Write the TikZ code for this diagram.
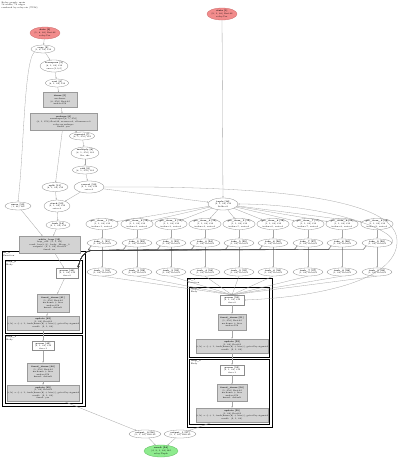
\documentclass[tikz,border=0pt]{standalone}
\usetikzlibrary{shapes.geometric,arrows.meta}
\definecolor{edgegray}{HTML}{A6A6A6}
\definecolor{nodeline}{HTML}{8C8C8C}
\definecolor{boxfill}{HTML}{D3D3D3}
\definecolor{boxline}{HTML}{9A9A9A}
\definecolor{redfill}{HTML}{F28C8C}
\definecolor{redline}{HTML}{C86464}
\definecolor{greenfill}{HTML}{8EEB8E}
\definecolor{greenline}{HTML}{5CB85C}
\tikzset{
  tinyfont/.style={font=\fontsize{2.1}{2.6}\selectfont, align=center},
  sz/.style 2 args={minimum width=#1, minimum height=#2},
  ell/.style={ellipse, draw=nodeline, line width=0.3pt, fill=white, inner sep=0pt, tinyfont},
  redell/.style={ell, fill=redfill, draw=redline},
  greenell/.style={ell, fill=greenfill, draw=greenline},
  graybox/.style={rectangle, draw=boxline, fill=boxfill, line width=0.3pt, inner sep=0pt, tinyfont},
  whitebox/.style={rectangle, draw=nodeline, fill=white, line width=0.3pt, inner sep=0pt, tinyfont},
  edge/.style={draw=edgegray, line width=0.3pt, -{Stealth[length=1.6pt,width=1.3pt]}},
  bundle/.style={draw=black!75, line width=0.35pt, -{Stealth[length=1.8pt,width=1.5pt]}},
  clusterframe/.style={draw=black, line width=0.8pt},
  clusterlabel/.style={anchor=north west, inner sep=0pt, font=\fontsize{2.1}{2.6}\selectfont, align=left}
}
\begin{document}
\begin{tikzpicture}[x=1pt,y=-1pt]
\useasboundingbox (0,0) rectangle (400,459);
\fill[white] (0,0) rectangle (400,459);

% header
\node[clusterlabel] (hdr) at (1.5,1.5) {Relay graph: main\\58 nodes, 72 edges\\rendered by relay.viz (TVM)};

% cluster frames
\draw[clusterframe] (2,251) rectangle (85,406);
\draw[clusterframe] (5,260) rectangle (82,333);
\draw[clusterframe] (5,335) rectangle (82,403);
\node[clusterlabel] (cl0) at (3.2,252.2) {\textbf{fn\_0}\\Function};
\node[clusterlabel] (cl1) at (6.2,261.2) {\textbf{loop\_0}\\Body};
\node[clusterlabel] (cl2) at (6.2,336.2) {\textbf{loop\_1}\\Body};

\draw[clusterframe] (187,278) rectangle (272,427);
\draw[clusterframe] (189.5,287) rectangle (269.5,357);
\draw[clusterframe] (189.5,359) rectangle (269.5,424);
\node[clusterlabel] (cr0) at (188.2,279.2) {\textbf{fn\_1}\\Function};
\node[clusterlabel] (cr1) at (190.7,288.2) {\textbf{loop\_2}\\Body};
\node[clusterlabel] (cr2) at (190.7,360.2) {\textbf{loop\_3}\\Body};

% top-left chain
\node[redell, sz={30}{12}] (in1) at (45,33) {\textbf{data [0]}\\(1, 8, 64) float32\\relay.Var};
\node[redell, sz={30}{12}] (in2) at (222,14) {\textbf{state [1]}\\(9, 1, 64) float32\\relay.Var};
\node[ell, sz={24}{8}] (n1) at (43,49) {\textbf{copy [2]}\\(1, 8, 64) f32};
\node[ell, sz={28}{12}] (n2) at (54,66) {\textbf{transpose [3]}\\(8, 1, 64) f32\\axes=[1,0,2]};
\node[ell, sz={22}{8}] (n3) at (57,83) {\textbf{cast [4]}\\(8, 1, 64) f32};
\node[graybox, sz={34}{15}] (b1) at (60,100) {\textbf{dense [5]}\\nn.dense\\(8, 256) float32\\units=256};
\node[graybox, sz={67}{17}] (b2) at (63.5,122) {\textbf{reshape [6]}\\newshape=[8, 1, 256]\\(8, 1, 256) float32, reverse=0, allowzero=0\\relay.op.reshape\\fused: yes};
\node[ell, sz={24}{8}] (n4) at (82,136) {\textbf{sigmoid [7]}\\(8, 1, 256) f32};
\node[ell, sz={28}{12}] (n5) at (85,153) {\textbf{multiply [8]}\\(8, 1, 256) f32\\lhs, rhs};
\node[ell, sz={24}{8}] (n6) at (85,170) {\textbf{add [9]}\\(8, 1, 256) f32};
\node[ell, sz={30}{12}] (cc) at (89,187) {\textbf{concat [10]}\\(9, 1, 64) f32\\axis=0};
\node[ell, sz={26}{9}] (n7) at (55,187) {\textbf{split [11]}\\(8, 1, 64) f32};
\node[ell, sz={26}{8}] (n8) at (18,206) {\textbf{zeros [12]}\\(1, 64) f32};
\node[ell, sz={26}{12}] (n9) at (57,206) {\textbf{stack [13]}\\(9, 1, 64) f32\\axis=0};
\node[ell, sz={24}{8}] (n10) at (58,225) {\textbf{tanh [14]}\\(9, 1, 64) f32};
\node[graybox, sz={61}{17}] (b3) at (49.5,244.5) {\textbf{while\_loop [15]}\\loop\_var: (9, 1, 64)\\cond: less(i, 9), body: @loop\_0\\outputs: (9, 1, 64) float32\\fused: no};

% hub
\node[ell, sz={30}{12}] (T) at (223,204) {\textbf{tuple [16]}\\(9, 1, 64) f32\\fields=9};

% rows
\foreach \i/\x in {1/102,2/137,3/171,4/205,5/239,6/273,7/308,8/342,9/377}{
  \node[ell, sz={30}{11}] (A\i) at (\x,224) {\textbf{get\_item\_\i\ [1\i]}\\(1, 1, 64) f32\\index=\i, axis=0};
  \node[ell, sz={30}{8}] (B\i) at (\x,243) {\textbf{take\_\i\ [2\i]}\\(1, 64) float32};
  \node[ell, sz={30}{8}] (C\i) at (\x,272) {\textbf{tanh\_\i\ [3\i]}\\(1, 64) float32};
}

% left cluster nodes
\node[whitebox, sz={22}{10}] (L1) at (67,273) {\textbf{param [40]}\\(9, 1, 64) f32\\iter=0};
\node[graybox, sz={32}{18}] (L2) at (53,303) {\textbf{fused\_dense [41]}\\(1, 256) float32\\nn.dense + bias\\units=256\\kernel: default};
\node[graybox, sz={72}{14}] (L3) at (43,323) {\textbf{update [42]}\\(1, 64) float32\\(i, h) = (i + 1, tanh(dense(h) + bias)), gated by sigmoid\\result: (9, 1, 64)};
\node[whitebox, sz={22}{9}] (L4) at (43,346) {\textbf{param [43]}\\(9, 1, 64) f32\\iter=1};
\node[graybox, sz={32}{18}] (L5) at (43,372) {\textbf{fused\_dense [44]}\\(1, 256) float32\\nn.dense + bias\\units=256\\kernel: default};
\node[graybox, sz={72}{16}] (L6) at (43,393) {\textbf{update [45]}\\(1, 64) float32\\(i, h) = (i + 1, tanh(dense(h) + bias)), gated by sigmoid\\result: (9, 1, 64)\\fused: yes};

% right cluster nodes
\node[whitebox, sz={24}{10}] (R1) at (232,300) {\textbf{param [50]}\\(9, 1, 64) f32\\iter=0};
\node[graybox, sz={28}{16}] (R2) at (232,322) {\textbf{fused\_dense [51]}\\(1, 256) float32\\nn.dense + bias\\units=256};
\node[graybox, sz={68}{14}] (R3) at (232,346) {\textbf{update [52]}\\(1, 64) float32\\(i, h) = (i + 1, tanh(dense(h) + bias)), gated by sigmoid\\result: (9, 1, 64)};
\node[whitebox, sz={24}{10}] (R4) at (232,370) {\textbf{param [53]}\\(9, 1, 64) f32\\iter=1};
\node[graybox, sz={30}{17}] (R5) at (232,393) {\textbf{fused\_dense [54]}\\(1, 256) float32\\nn.dense + bias\\units=256\\kernel: default};
\node[graybox, sz={68}{14}] (R6) at (232,415) {\textbf{update [55]}\\(1, 64) float32\\(i, h) = (i + 1, tanh(dense(h) + bias)), gated by sigmoid\\result: (9, 1, 64)};

% bottom
\node[ell, sz={32}{8}] (E1) at (145,434) {\textbf{output\_0 [56]}\\(9, 1, 64) float32};
\node[ell, sz={32}{8}] (E2) at (180,434) {\textbf{output\_1 [57]}\\(9, 1, 64) float32};
\node[greenell, sz={34}{12}] (G) at (161,451) {\textbf{result [58]}\\(2, 9, 1, 64) f32\\relay.Tuple};

% edges: top-left chain
\draw[edge] (in1) -- (n1);
\draw[edge] (n1) -- (n2);
\draw[edge] (n2) -- (n3);
\draw[edge] (n3) -- (b1);
\draw[edge] (b1) -- (b2);
\draw[edge] (b2) -- (n4);
\draw[edge] (n4) -- (n5);
\draw[edge] (n5) -- (n6);
\draw[edge] (n6) -- (cc);
\draw[edge] (b2) -- (n7);
\draw[edge] (n1.south west) .. controls (24,62) and (24,150) .. (n8.north);
\draw[edge] (n7) -- (n9);
\draw[edge] (cc) -- (n9);
\draw[edge] (n8) -- (b3);
\draw[edge] (n9) -- (n10);
\draw[edge] (n10) -- (b3);
\draw[edge] (b3) -- (L1);

% hub edges
\draw[edge] (in2) -- (T);
\draw[edge] (cc) -- (T);
\foreach \i in {1,...,9}{
  \draw[edge] (T) -- (A\i);
  \draw[edge] (A\i) -- (B\i);
  \draw[edge] (B\i) -- (C\i);
  \draw[edge] (C\i.south) -- (R1.north);
}
% bundle of edges from the take row into the left loop
\foreach \i in {1,...,9}{
  \draw[bundle] (B\i.south west) -- ++(-3,3.5) -- (92,250.5) .. controls (84,251) and (80,258) .. (L1.north east);
}
\draw[edge] (cc.east) .. controls (250,186) and (395,195) .. (397,240) .. controls (399,285) and (300,298) .. (R1.east);
\draw[edge] (B9.east) .. controls (400,232) and (330,204) .. (T.east);

% cluster internals
\draw[edge] (L1) -- (L2);
\draw[edge] (L2) -- (L3);
\draw[edge] (L3) -- (L4);
\draw[edge] (L4) -- (L5);
\draw[edge] (L5) -- (L6);
\draw[edge] (R1) -- (R2);
\draw[edge] (R2) -- (R3);
\draw[edge] (R3) -- (R4);
\draw[edge] (R4) -- (R5);
\draw[edge] (R5) -- (R6);

% outputs
\draw[edge] (L6) -- (E1);
\draw[edge] (R6) -- (E2);
\draw[edge] (E1) -- (G);
\draw[edge] (E2) -- (G);
\end{tikzpicture}
\end{document}
